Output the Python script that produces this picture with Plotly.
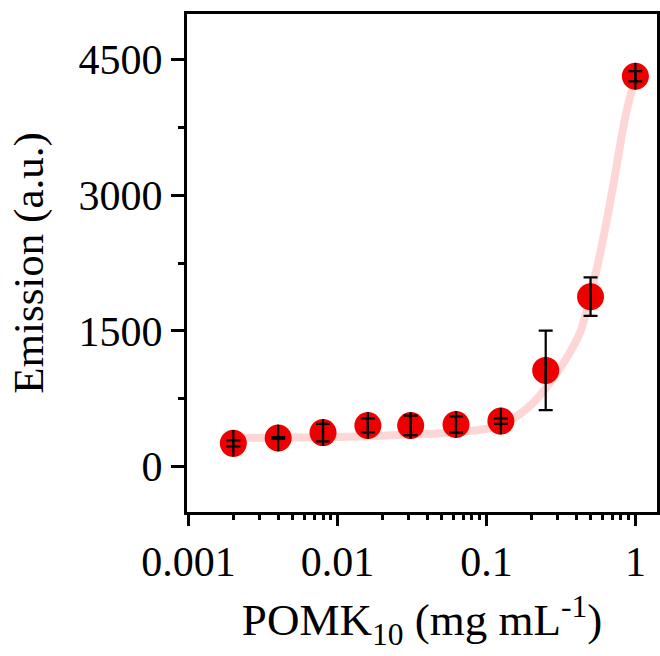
import plotly.graph_objects as go

# data: concentration (mg/mL), emission (a.u.), error
conc = [0.002, 0.004, 0.008, 0.016, 0.031, 0.0625, 0.125, 0.25, 0.5, 1.0]
emission = [258, 317, 377, 456, 456, 467, 504, 1064, 1878, 4313]
err = [34, 10, 97, 78, 108, 90, 30, 439, 213, 56]

# fitted curve
fit_x = [0.0017, 0.002, 0.004, 0.008, 0.016, 0.031, 0.0625, 0.125, 0.196, 0.253, 0.327, 0.423, 0.498, 0.589, 0.705, 0.866, 1.0]
fit_y = [318, 320, 322, 326, 336, 355, 381, 459, 672, 878, 1139, 1475, 1886, 2409, 3081, 3902, 4295]

x_ticks = [0.001, 0.01, 0.1, 1]
x_ticktext = ["0.001", "0.01", "0.1", "1"]
y_ticks = [0, 1500, 3000, 4500]

FONT = "Liberation Serif"
RED = "#EE0000"

fig = go.Figure()
fig.add_trace(go.Scatter(
    x=fit_x, y=fit_y, mode="lines", line=dict(color="#FDD6D6", width=8, shape="spline"),
    hoverinfo="skip", showlegend=False))
fig.add_trace(go.Scatter(
    x=conc, y=emission, mode="markers",
    marker=dict(color=RED, size=27, line=dict(width=0)),
    showlegend=False))
# error bars and vertical stroke drawn on top of each marker
fig.add_trace(go.Scatter(
    x=conc, y=emission, mode="markers",
    marker=dict(symbol="line-ns-open", size=19, color="black", line=dict(color="black", width=2.2)),
    error_y=dict(type="data", array=err, visible=True, color="black", thickness=2.2, width=7),
    hoverinfo="skip", showlegend=False))

axis_common = dict(
    showgrid=False, zeroline=False, showline=True, linecolor="black", linewidth=3,
    mirror=True, ticks="outside", tickcolor="black", tickwidth=2.5,
    tickfont=dict(family=FONT, size=42, color="black"),
)
fig.update_xaxes(
    type="log", range=[-3.01, 0.145], tickvals=x_ticks, ticktext=x_ticktext, ticklen=11,
    minor=dict(ticks="outside", ticklen=5, tickwidth=2.5, tickcolor="black", dtick="D1", showgrid=False),
    title=dict(text="POMK<sub>10</sub> (mg mL<sup>-1</sup>)", font=dict(family=FONT, size=45, color="black"), standoff=20),
    **axis_common)
fig.update_yaxes(
    range=[-500, 5000], tickvals=y_ticks, ticklen=13,
    minor=dict(ticks="outside", ticklen=6, tickwidth=2.5, tickcolor="black", dtick=750, showgrid=False),
    title=dict(text="Emission (a.u.)", font=dict(family=FONT, size=43, color="black"), standoff=22),
    **axis_common)

fig.update_layout(
    width=660, height=656, margin=dict(l=187, r=0, t=14, b=144),
    paper_bgcolor="white", plot_bgcolor="white",
)
fig.write_html("out.html")
